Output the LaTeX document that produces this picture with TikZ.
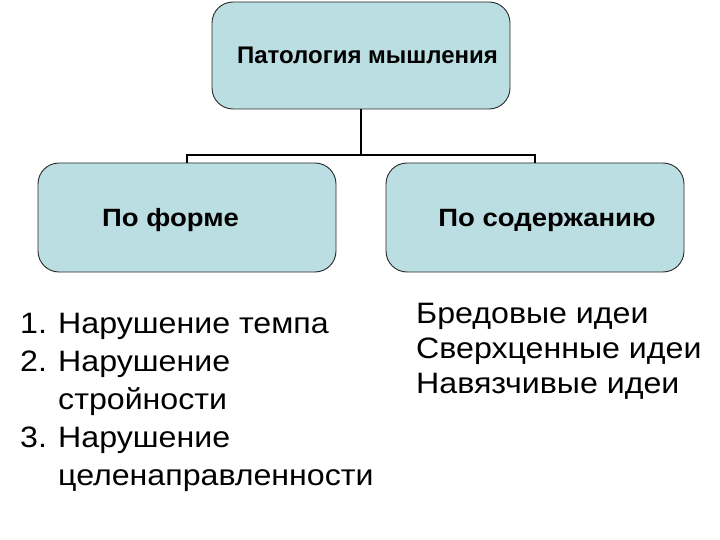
\documentclass[tikz,border=0pt]{standalone}
\usepackage{fontspec}
\setmainfont{Liberation Sans}
\newfontfamily\boxfont[FakeStretch=1.1]{Liberation Sans}
\newfontfamily\listfont[FakeStretch=1.09]{Liberation Sans}
\definecolor{boxfill}{RGB}{187,222,226}
\definecolor{boxline}{RGB}{40,40,40}
\begin{document}
\begin{tikzpicture}[x=1pt,y=-1pt,
  catbox/.style={draw=boxline,line width=0.9pt,fill=boxfill,rounded corners=21pt,
    minimum width=298pt,inner sep=0pt},
  boxtext/.style={font=\boxfont\fontsize{25}{30}\selectfont\bfseries,inner sep=0pt},
  conn/.style={draw=black,line width=1.8pt},
  listtext/.style={inner sep=0pt,align=left}]
\useasboundingbox (0,0) rectangle (720,540);
\node[catbox,minimum height=107pt] (top) at (361,55.5) {};
\node[catbox,minimum height=109pt] (left) at (187,217.5) {};
\node[catbox,minimum height=109pt] (right) at (535,217.5) {};
\node[inner sep=0pt,font=\fontsize{24}{28}\selectfont\bfseries] (ttop) at (367.5,55.5) {Патология мышления};
\node[boxtext,anchor=base] (tleft) at (170.5,226) {По форме};
\node[boxtext,anchor=base] (tright) at (547,226) {По содержанию};
\coordinate (j) at (361,155);
\draw[conn] (top.south) -- (j) -| (left.north);
\draw[conn] (j) -| (right.north);
\node[listtext,anchor=north west,font=\listfont\fontsize{29.5}{38}\selectfont] (forms) at (20,313)
 {\makebox[38pt][l]{1.}Нарушение темпа\\
  \makebox[38pt][l]{2.}Нарушение\\
  \hspace*{38pt}стройности\\
  \makebox[38pt][l]{3.}Нарушение\\
  \hspace*{38pt}целенаправленности};
\node[listtext,anchor=north west,font=\listfont\fontsize{29.5}{35}\selectfont] (ideas) at (416,303)
 {Бредовые идеи\\ Сверхценные идеи\\ Навязчивые идеи};
\end{tikzpicture}
\end{document}
